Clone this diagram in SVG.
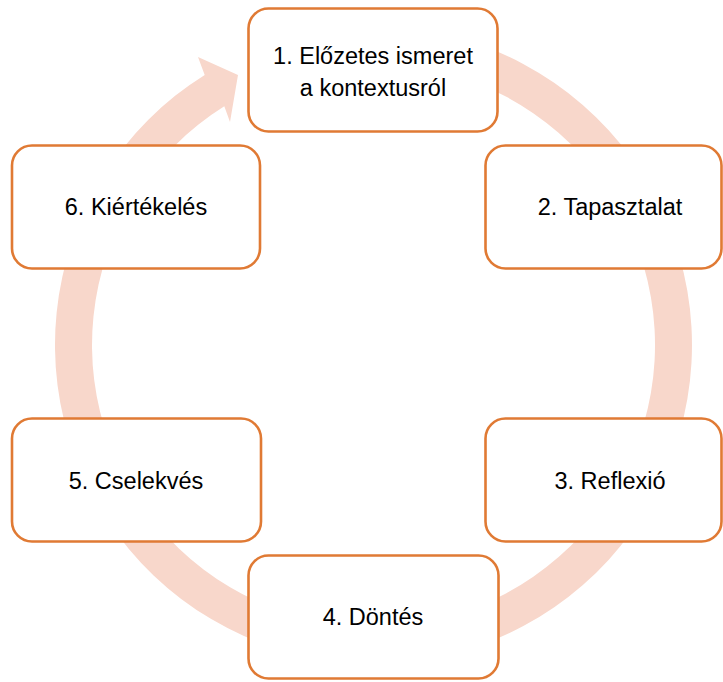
<svg xmlns="http://www.w3.org/2000/svg" width="723" height="682" viewBox="0 0 723 682">
  <style>
    .box { fill: #ffffff; stroke: #E07A34; stroke-width: 2.6; }
    .lbl { font-family: "Liberation Sans", Arial, sans-serif; font-size: 23.5px; fill: #000000; text-anchor: middle; }
    .ring { fill: #F8D7CB; stroke: none; }
  </style>

  <!-- circular cycle arrow behind the steps (clockwise, head at top-left) -->
  <g id="connectors">
    <path class="ring" d="M 455.9 37.35 A 318.5 318.5 0 1 1 204.7 74.9 L 198 57 L 238 75 L 230 122 L 224.3 106.3 A 281.5 281.5 0 1 0 446.4 73.1 Z"/>
  </g>

  <g id="step1">
    <rect class="box" x="248.5" y="8.5" width="249" height="123" rx="20" ry="20"/>
    <text class="lbl" x="373" y="63.5">1. Előzetes ismeret</text>
    <text class="lbl" x="373" y="96">a kontextusról</text>
  </g>

  <g id="step2">
    <rect class="box" x="485.5" y="145.5" width="236" height="123" rx="20" ry="20"/>
    <text class="lbl" x="610" y="215">2. Tapasztalat</text>
  </g>

  <g id="step3">
    <rect class="box" x="485.5" y="418.5" width="236" height="123" rx="20" ry="20"/>
    <text class="lbl" x="610" y="488.5">3. Reflexió</text>
  </g>

  <g id="step4">
    <rect class="box" x="248.5" y="555.5" width="250" height="123" rx="20" ry="20"/>
    <text class="lbl" x="373" y="625">4. Döntés</text>
  </g>

  <g id="step5">
    <rect class="box" x="12" y="418.5" width="249" height="123" rx="20" ry="20"/>
    <text class="lbl" x="136" y="488.5">5. Cselekvés</text>
  </g>

  <g id="step6">
    <rect class="box" x="12" y="145.5" width="248" height="123" rx="20" ry="20"/>
    <text class="lbl" x="136" y="215">6. Kiértékelés</text>
  </g>
</svg>
